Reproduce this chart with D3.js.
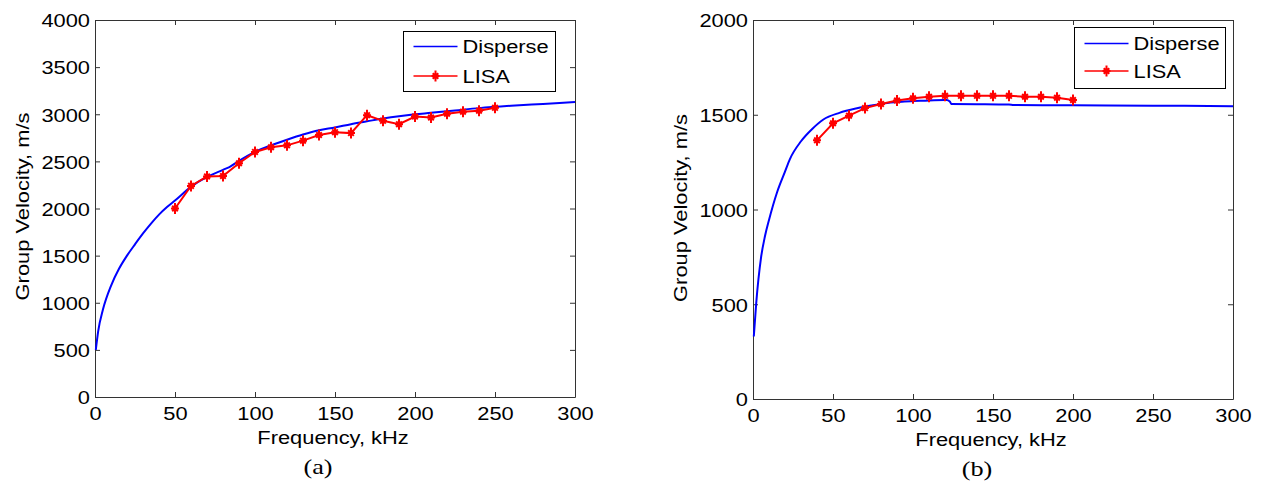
<!DOCTYPE html>
<html>
<head>
<meta charset="utf-8">
<script src="https://cdn.jsdelivr.net/npm/d3@7"></script>
<style>
  html, body { margin: 0; padding: 0; background: #fff; }
  svg { display: block; }
</style>
</head>
<body>
<svg id="chart" width="1262" height="482"></svg>
<script>
// ---------------- DATA ----------------
// Panel (a)
const aDisperseFreq = [0.5, 2, 5, 10, 15, 20, 25, 30, 35, 40, 45, 50, 60, 70, 80, 84, 90, 100, 110, 120, 130, 140, 150, 160, 170, 180, 190, 200, 210, 225, 240, 260, 280, 300];
const aDisperseVel  = [500, 700, 930, 1180, 1360, 1500, 1620, 1735, 1840, 1935, 2015, 2085, 2230, 2335, 2410, 2440, 2505, 2600, 2670, 2730, 2785, 2830, 2860, 2895, 2925, 2955, 2980, 3000, 3015, 3040, 3065, 3090, 3110, 3130];
const aLisaFreq = [50, 60, 70, 80, 90, 100, 110, 120, 130, 140, 150, 160, 170, 180, 190, 200, 210, 220, 230, 240, 250];
const aLisaVel  = [2000, 2240, 2340, 2345, 2480, 2600, 2650, 2670, 2720, 2780, 2810, 2800, 2990, 2930, 2895, 2975, 2965, 3005, 3027, 3038, 3068];
const aXTicks = [0, 50, 100, 150, 200, 250, 300];
const aYTicks = [0, 500, 1000, 1500, 2000, 2500, 3000, 3500, 4000];

// Panel (b)
const bDisperseFreq = [0.5, 2, 5, 7.5, 10, 15, 20, 23, 30, 37, 44, 54, 65, 75, 86, 100, 106, 120, 121, 123, 124, 140, 160, 163, 200, 250, 300];
const bDisperseVel  = [330, 505, 745, 860, 945, 1090, 1200, 1265, 1360, 1425, 1475, 1510, 1534, 1550, 1564, 1572, 1574, 1578, 1578, 1570, 1557, 1556, 1554, 1551, 1550, 1548, 1545];
const bLisaFreq = [40, 50, 60, 70, 80, 90, 100, 110, 120, 130, 140, 150, 160, 170, 180, 190, 200];
const bLisaVel  = [1365, 1455, 1495, 1535, 1557, 1575, 1587, 1595, 1600, 1600, 1600, 1600, 1600, 1595, 1595, 1590, 1578];
const bXTicks = [0, 50, 100, 150, 200, 250, 300];
const bYTicks = [0, 500, 1000, 1500, 2000];

const seriesNames = ["Disperse", "LISA"];
const xLabel = "Frequency, kHz";
const yLabel = "Group Velocity, m/s";

// ---------------- DRAWING ----------------
const svg = d3.select("#chart");
const FONT = "Liberation Sans, Arial, Helvetica, sans-serif";
const SERIF = "Liberation Serif, Times New Roman, serif";
const SX = 1.15;
const FS = 19;

function addText(g, x, y, str, anchor, opts = {}) {
  return g.append("text")
    .attr("transform", `translate(${x},${y})${opts.rotate ? " rotate(-90)" : ""} scale(${opts.sx || SX},1)`)
    .attr("text-anchor", anchor)
    .attr("font-family", opts.family || FONT)
    .attr("font-size", opts.size || FS)
    .attr("fill", "#000")
    .text(str);
}

function marker(g, x, y) {
  g.append("path")
    .attr("transform", `translate(${x},${y})`)
    .attr("d", "M0,-5.5V5.5M-4,0H4M-2.8,-2.8L2.8,2.8M-2.8,2.8L2.8,-2.8")
    .attr("stroke", "#ff0000").attr("stroke-width", 2).attr("fill", "none");
  g.append("circle").attr("cx", x).attr("cy", y).attr("r", 2.5).attr("fill", "#ff0000");
}

function drawPanel(c) {
  const g = svg.append("g");
  const x = d3.scaleLinear().domain([0, 300]).range([c.left, c.right]);
  const y = d3.scaleLinear().domain([0, c.yMax]).range([c.bottom, c.top]);
  const fmt = d3.format("d");

  g.append("rect").attr("x", c.left).attr("y", c.top)
    .attr("width", c.right - c.left).attr("height", c.bottom - c.top)
    .attr("fill", "#fff");

  const styleAxis = (ax) => {
    ax.attr("font-family", FONT).attr("font-size", FS);
    ax.select(".domain").attr("stroke", "#333").attr("stroke-width", 1);
    ax.selectAll(".tick line").attr("stroke", "#333");
  };

  const bottom = g.append("g").attr("transform", `translate(0,${c.bottom})`)
    .call(d3.axisBottom(x).tickValues(c.xTicks).tickFormat(fmt).tickSize(-5).tickSizeOuter(0));
  styleAxis(bottom);
  bottom.selectAll(".tick text")
    .attr("x", null).attr("y", null).attr("dy", null)
    .attr("transform", `translate(0,23) scale(${SX},1)`)
    .attr("fill", "#000");

  const top = g.append("g").attr("transform", `translate(0,${c.top})`)
    .call(d3.axisTop(x).tickValues(c.xTicks).tickSize(-5).tickSizeOuter(0).tickFormat(""));
  styleAxis(top);

  const left = g.append("g").attr("transform", `translate(${c.left},0)`)
    .call(d3.axisLeft(y).tickValues(c.yTicks).tickFormat(fmt).tickSize(-5).tickSizeOuter(0));
  styleAxis(left);
  left.selectAll(".tick text")
    .attr("x", null).attr("y", null).attr("dy", null)
    .attr("transform", `translate(-5,6.8) scale(${SX},1)`)
    .attr("fill", "#000");

  const right = g.append("g").attr("transform", `translate(${c.right},0)`)
    .call(d3.axisRight(y).tickValues(c.yTicks).tickSize(-5).tickSizeOuter(0).tickFormat(""));
  styleAxis(right);

  const smooth = d3.line().x(d => x(d[0])).y(d => y(d[1])).curve(d3.curveMonotoneX);
  const straight = d3.line().x(d => x(d[0])).y(d => y(d[1]));
  const dData = c.dFreq.map((f, i) => [f, c.dVel[i]]);
  const lData = c.lFreq.map((f, i) => [f, c.lVel[i]]);

  g.append("path").attr("d", smooth(dData))
    .attr("fill", "none").attr("stroke", "#0000ff").attr("stroke-width", 2);
  g.append("path").attr("d", straight(lData))
    .attr("fill", "none").attr("stroke", "#ff0000").attr("stroke-width", 2);
  lData.forEach(d => marker(g, x(d[0]), y(d[1])));

  addText(g, c.xLabelX, c.xLabelY, xLabel, "middle");
  addText(g, c.yLabelX, c.yLabelY, yLabel, "middle", { rotate: true });
  addText(g, c.capX, c.capY, c.caption, "middle", { family: SERIF, size: 21, sx: 1.25 });

  const L = c.legend;
  g.append("rect").attr("x", L.x).attr("y", L.y).attr("width", L.w).attr("height", L.h)
    .attr("fill", "#fff").attr("stroke", "#000").attr("stroke-width", 1);
  const lx0 = L.x + 10, lx1 = L.x + 54;
  g.append("line").attr("x1", lx0).attr("x2", lx1).attr("y1", L.y + L.r1).attr("y2", L.y + L.r1)
    .attr("stroke", "#0000ff").attr("stroke-width", 1.5);
  g.append("line").attr("x1", lx0).attr("x2", lx1).attr("y1", L.y + L.r2).attr("y2", L.y + L.r2)
    .attr("stroke", "#ff0000").attr("stroke-width", 1.5);
  marker(g, (lx0 + lx1) / 2, L.y + L.r2);
  addText(g, lx1 + 5, L.y + L.r1 + 6.8, seriesNames[0], "start");
  addText(g, lx1 + 5, L.y + L.r2 + 6.8, seriesNames[1], "start");
}

drawPanel({
  left: 95, right: 575, top: 20, bottom: 397, yMax: 4000,
  xTicks: aXTicks, yTicks: aYTicks,
  dFreq: aDisperseFreq, dVel: aDisperseVel, lFreq: aLisaFreq, lVel: aLisaVel,
  xLabelX: 333, xLabelY: 444, yLabelX: 28.5, yLabelY: 206.5,
  capX: 318, capY: 474, caption: "(a)",
  legend: { x: 403.5, y: 31.5, w: 152, h: 60, r1: 15, r2: 44.5 }
});

drawPanel({
  left: 753, right: 1233, top: 20, bottom: 399, yMax: 2000,
  xTicks: bXTicks, yTicks: bYTicks,
  dFreq: bDisperseFreq, dVel: bDisperseVel, lFreq: bLisaFreq, lVel: bLisaVel,
  xLabelX: 991, xLabelY: 446, yLabelX: 687, yLabelY: 208,
  capX: 977, capY: 476, caption: "(b)",
  legend: { x: 1074.5, y: 27.5, w: 151, h: 61, r1: 16, r2: 43.5 }
});
</script>
</body>
</html>
